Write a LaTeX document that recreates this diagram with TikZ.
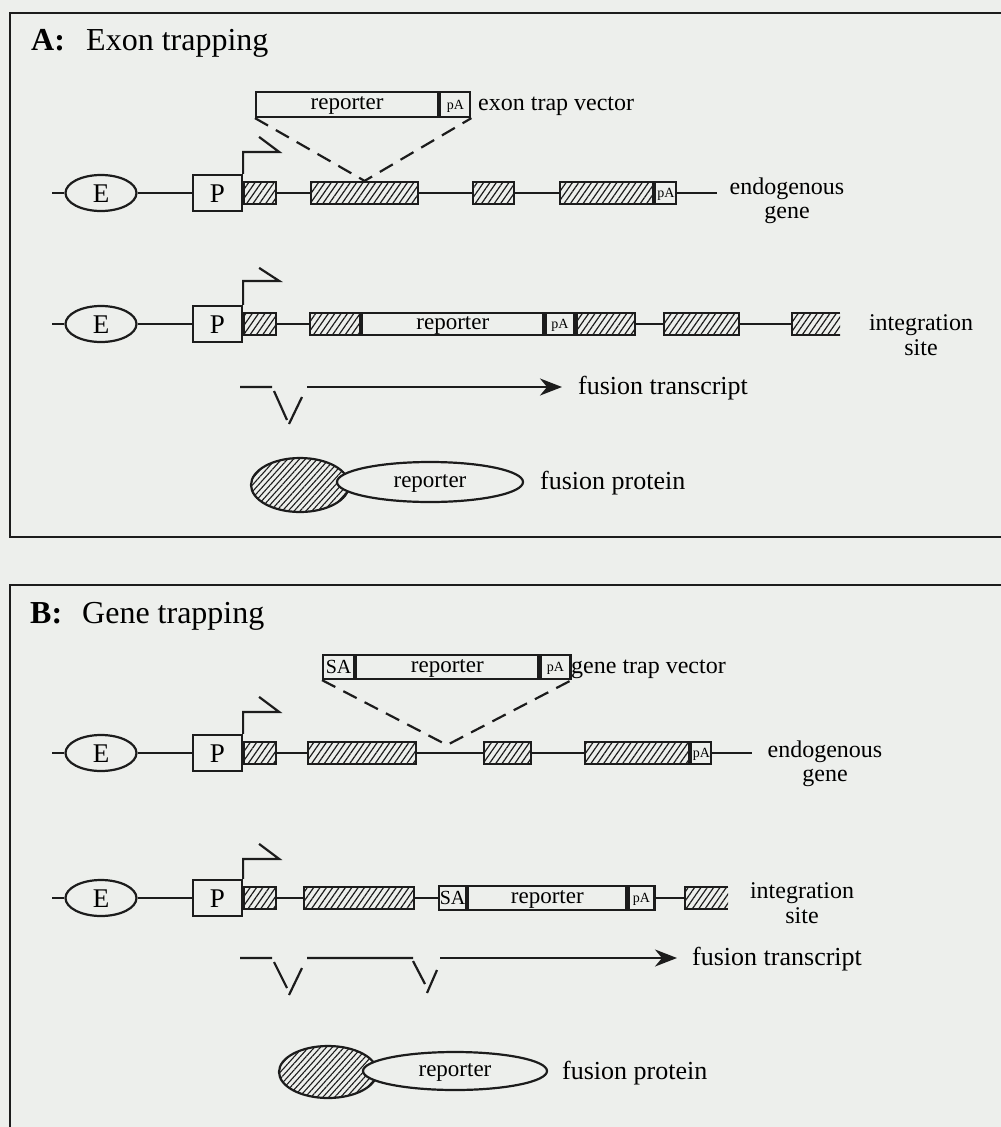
\documentclass[tikz,border=0pt]{standalone}
\usepackage{fontspec}
\setmainfont{Liberation Serif}
\usetikzlibrary{patterns.meta,arrows.meta,shapes.geometric}
\definecolor{paper}{HTML}{EDEFEC}
\definecolor{ink}{HTML}{1C1C1C}
\tikzset{
  dna/.style={draw=ink, line width=2.2pt},
  panel/.style={draw=ink, line width=2.6pt},
  exon/.style={draw=ink, line width=2.2pt, inner sep=0pt, anchor=west,
    minimum height=22pt,
    pattern={Lines[angle=55,distance=5.2pt,line width=1.2pt]}, pattern color=ink},
  openexon/.style={inner sep=0pt, anchor=west, minimum height=22pt,
    pattern={Lines[angle=55,distance=5.2pt,line width=1.2pt]}, pattern color=ink},
  cassette/.style={draw=ink, line width=2.2pt, inner sep=0pt, anchor=west,
    minimum height=23pt, fill=paper, font=\fontsize{23}{24}\selectfont,
    text height=10pt, text depth=0pt},
  smallbox/.style={cassette, font=\fontsize{14}{16}\selectfont,
    text height=9.5pt, text depth=0pt},
  sabox/.style={cassette, font=\fontsize{20}{22}\selectfont,
    text height=13pt, text depth=0pt},
  enhancer/.style={ellipse, draw=ink, line width=2.2pt, inner sep=0pt,
    minimum width=71pt, minimum height=36pt, font=\fontsize{27}{28}\selectfont,
    text height=18pt, text depth=0pt},
  promoter/.style={rectangle, draw=ink, line width=2.2pt, inner sep=0pt,
    minimum width=49pt, minimum height=36pt, font=\fontsize{27}{28}\selectfont,
    text height=18pt, text depth=0pt},
  tss/.style={draw=ink, line width=2.2pt},
  insertion/.style={draw=ink, line width=2.2pt, dash pattern=on 15pt off 9pt},
  splice/.style={draw=ink, line width=2.2pt},
  transcript/.style={draw=ink, line width=2.2pt,
    -{Stealth[length=22pt,width=17pt,inset=7pt]}},
  headpart/.style={ellipse, draw=ink, line width=2.2pt, inner sep=0pt,
    pattern={Lines[angle=48,distance=4.4pt,line width=1.1pt]}, pattern color=ink},
  reppart/.style={ellipse, draw=ink, line width=2.2pt, inner sep=0pt, fill=paper,
    font=\fontsize{23}{24}\selectfont, text height=10pt, text depth=0pt},
  lab/.style={inner sep=0pt, font=\fontsize{24}{26}\selectfont},
  biglab/.style={inner sep=0pt, font=\fontsize{26}{28}\selectfont},
  title/.style={inner sep=0pt, font=\fontsize{32}{34}\selectfont, anchor=base west},
}
\begin{document}
\begin{tikzpicture}[x=1pt,y=-1pt]
\useasboundingbox (0,0) rectangle (1001,1127);
\fill[paper] (0,0) rectangle (1001,1127);
\clip (0,0) rectangle (1001,1127);

% ---------------- Panel A: exon trapping ----------------
\draw[panel] (10,13) rectangle (1020,537);
\node[title] (tA) at (31,50) {\textbf{A:}};
\node[title] (tAt) at (86,50) {Exon trapping};

% exon trap vector
\node[cassette, minimum width=182pt, minimum height=25pt] (vAr) at (255,104.5) {reporter};
\node[smallbox, minimum width=30pt, minimum height=25pt] (vApa) at (vAr.east) {pA};
\node[lab, anchor=base west] (vAl) at (478,110) {exon trap vector};

% endogenous gene
\coordinate (a1s) at (52,193);
\node[enhancer] (a1E) at (101,193) {E};
\node[promoter] (a1P) at (217.5,193) {P};
\node[exon, minimum width=32pt] (a1x1) at (243,193) {};
\node[exon, minimum width=107pt] (a1x2) at (310,193) {};
\node[exon, minimum width=41pt] (a1x3) at (472,193) {};
\node[exon, minimum width=93pt] (a1x4) at (559,193) {};
\node[smallbox, minimum width=21pt, minimum height=22pt] (a1pa) at (a1x4.east) {pA};
\coordinate (a1e) at (717,193);
\draw[dna] (a1s) -- (a1E.west) (a1E.east) -- (a1P.west)
  (a1x1.east) -- (a1x2.west) (a1x2.east) -- (a1x3.west)
  (a1x3.east) -- (a1x4.west) (a1pa.east) -- (a1e);
\draw[tss] (a1P.north east) -- ++(0,-22) -- ++(36,0) -- ++(-20,-15);
\draw[insertion] (vAr.south west) -- (a1x2.north) -- (vApa.south east);
\node[lab, anchor=base] (a1l1) at (787,194) {endogenous};
\node[lab, anchor=base] (a1l2) at (787,218) {gene};

% integration site
\coordinate (a2s) at (52,324);
\node[enhancer] (a2E) at (101,324) {E};
\node[promoter] (a2P) at (217.5,324) {P};
\node[exon, minimum width=32pt] (a2x1) at (243,324) {};
\node[exon, minimum width=50pt] (a2x2) at (309,324) {};
\node[cassette, minimum width=181pt, minimum height=22pt] (a2r) at (a2x2.east) {reporter};
\node[smallbox, minimum width=29pt, minimum height=22pt] (a2pa) at (a2r.east) {pA};
\node[exon, minimum width=58pt] (a2x3) at (a2pa.east) {};
\node[exon, minimum width=75pt] (a2x4) at (663,324) {};
\node[openexon, minimum width=48pt] (a2x5) at (792,324) {};
\draw[dna] (a2x5.north east) -- (a2x5.north west) -- (a2x5.south west) -- (a2x5.south east);
\draw[dna] (a2s) -- (a2E.west) (a2E.east) -- (a2P.west)
  (a2x1.east) -- (a2x2.west) (a2x3.east) -- (a2x4.west)
  (a2x4.east) -- (a2x5.west);
\draw[tss] (a2P.north east) -- ++(0,-24) -- ++(36,0) -- ++(-20,-13);
\node[lab, anchor=base] (a2l1) at (921,330) {integration};
\node[lab, anchor=base] (a2l2) at (921,355) {site};

% fusion transcript
\coordinate (aT0) at (240,387);
\coordinate (aT1) at (272,387);
\coordinate (aS1a) at (274,391);
\coordinate (aS1b) at (287,420);
\coordinate (aS1c) at (289,424);
\coordinate (aS1d) at (302,397);
\coordinate (aT2) at (307,387);
\node[biglab, anchor=west] (aTl) at (578,388) {fusion transcript};
\coordinate (aT3) at (562,387);
\draw[splice] (aT0) -- (aT1) (aS1a) -- (aS1b) (aS1c) -- (aS1d);
\draw[transcript] (aT2) -- (aT3);

% fusion protein
\node[headpart, minimum width=98pt, minimum height=54pt] (aH) at (300,485) {};
\node[reppart, minimum width=186pt, minimum height=40pt] (aR) at (430,482) {reporter};
\node[biglab, anchor=west] (aPl) at (540,483) {fusion protein};

% ---------------- Panel B: gene trapping ----------------
\draw[panel] (10,585) rectangle (1020,1140);
\node[title] (tB) at (30,623) {\textbf{B:}};
\node[title] (tBt) at (82,623) {Gene trapping};

% gene trap vector
\node[sabox, minimum width=31pt, minimum height=24pt] (vBsa) at (322,667) {SA};
\node[cassette, minimum width=182pt, minimum height=24pt] (vBr) at (vBsa.east) {reporter};
\node[smallbox, minimum width=30pt, minimum height=24pt] (vBpa) at (vBr.east) {pA};
\node[lab, anchor=base west] (vBl) at (571,673) {gene trap vector};

% endogenous gene
\coordinate (b1s) at (52,753);
\node[enhancer] (b1E) at (101,753) {E};
\node[promoter] (b1P) at (217.5,753) {P};
\node[exon, minimum width=32pt] (b1x1) at (243,753) {};
\node[exon, minimum width=108pt] (b1x2) at (307,753) {};
\node[exon, minimum width=47pt] (b1x3) at (483,753) {};
\node[exon, minimum width=104pt] (b1x4) at (584,753) {};
\node[smallbox, minimum width=20pt, minimum height=22pt] (b1pa) at (b1x4.east) {pA};
\coordinate (b1e) at (752,753);
\coordinate (b1v) at (447,745);
\draw[dna] (b1s) -- (b1E.west) (b1E.east) -- (b1P.west)
  (b1x1.east) -- (b1x2.west) (b1x2.east) -- (b1x3.west)
  (b1x3.east) -- (b1x4.west) (b1pa.east) -- (b1e);
\draw[tss] (b1P.north east) -- ++(0,-22) -- ++(36,0) -- ++(-20,-15);
\draw[insertion] (vBsa.south west) -- (b1v) -- (vBpa.south east);
\node[lab, anchor=base] (b1l1) at (825,757) {endogenous};
\node[lab, anchor=base] (b1l2) at (825,781) {gene};

% integration site
\coordinate (b2s) at (52,898);
\node[enhancer] (b2E) at (101,898) {E};
\node[promoter] (b2P) at (217.5,898) {P};
\node[exon, minimum width=32pt] (b2x1) at (243,898) {};
\node[exon, minimum width=110pt] (b2x2) at (303,898) {};
\node[sabox, minimum width=27pt, minimum height=24pt] (b2sa) at (438,898) {SA};
\node[cassette, minimum width=158pt, minimum height=24pt] (b2r) at (b2sa.east) {reporter};
\node[smallbox, minimum width=26pt, minimum height=24pt] (b2pa) at (b2r.east) {pA};
\node[openexon, minimum width=43pt] (b2x3) at (685,898) {};
\draw[dna] (b2x3.north east) -- (b2x3.north west) -- (b2x3.south west) -- (b2x3.south east);
\draw[dna] (b2s) -- (b2E.west) (b2E.east) -- (b2P.west)
  (b2x1.east) -- (b2x2.west) (b2x2.east) -- (b2sa.west)
  (b2pa.east) -- (b2x3.west);
\draw[tss] (b2P.north east) -- ++(0,-20) -- ++(36,0) -- ++(-20,-15);
\node[lab, anchor=base] (b2l1) at (802,898) {integration};
\node[lab, anchor=base] (b2l2) at (802,923) {site};

% fusion transcript
\coordinate (bT0) at (240,958);
\coordinate (bT1) at (272,958);
\coordinate (bS1a) at (274,962);
\coordinate (bS1b) at (287,988);
\coordinate (bS1c) at (289,995);
\coordinate (bS1d) at (302,968);
\coordinate (bT2) at (307,958);
\coordinate (bT3) at (413,958);
\coordinate (bS2a) at (413,961);
\coordinate (bS2b) at (425,984);
\coordinate (bS2c) at (427,993);
\coordinate (bS2d) at (437,970);
\coordinate (bT4) at (440,958);
\coordinate (bT5) at (677,958);
\node[biglab, anchor=west] (bTl) at (692,959) {fusion transcript};
\draw[splice] (bT0) -- (bT1) (bS1a) -- (bS1b) (bS1c) -- (bS1d)
  (bT2) -- (bT3) (bS2a) -- (bS2b) (bS2c) -- (bS2d);
\draw[transcript] (bT4) -- (bT5);

% fusion protein
\node[headpart, minimum width=98pt, minimum height=52pt] (bH) at (328,1072) {};
\node[reppart, minimum width=184pt, minimum height=38pt] (bR) at (455,1071) {reporter};
\node[biglab, anchor=west] (bPl) at (562,1073) {fusion protein};
\end{tikzpicture}
\end{document}
